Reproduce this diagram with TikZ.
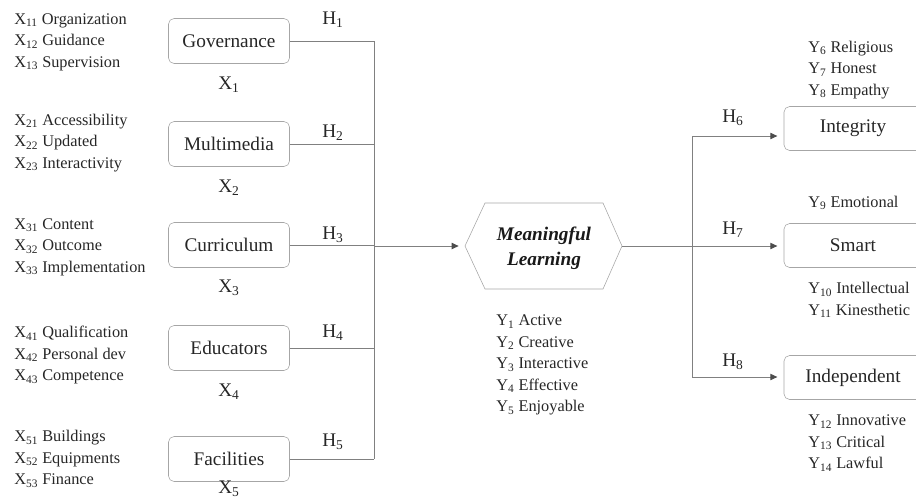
\documentclass[tikz,border=0pt]{standalone}
\usepackage{fontspec}
\setmainfont{Liberation Serif}
\usetikzlibrary{positioning,arrows.meta}

\begin{document}
\begin{tikzpicture}[x=0.025cm, y=-0.025cm,
    factor/.style={draw=gray!70, rounded corners=4pt, minimum width=3.025cm, minimum height=1.125cm, font=\fontsize{13.7}{16}\selectfont, text=black!85},
    outcome/.style={factor, minimum width=3.45cm, minimum height=1.1cm},
    ind/.style={align=left, anchor=west, inner sep=0pt, font=\fontsize{11.6}{15.3}\selectfont, text=black!85},
    lab/.style={font=\fontsize{13.7}{16}\selectfont, text=black!85, inner sep=0pt},
    link/.style={draw=gray, line width=0.7pt},
    arr/.style={link, shorten >=4.5pt, -{Triangle[length=5pt, width=4.5pt, color=black!70]}}
]
    \useasboundingbox (0,0) rectangle (916,502);

    % Draw the five factors with their buses
    \foreach \name/\lab/\y/\hy/\xy [count=\i] in {gov/Governance/41/20/85, mm/Multimedia/144/133/188, cur/Curriculum/245/235/288, edu/Educators/348/333/392, fac/Facilities/459/442/489} {
        \node[factor] (\name) at (229,\y) {\lab};
        \node[lab] (x\i) at (229,\xy) {X\textsubscript{\i}};
        \node[lab] (h\i) at (333,\hy) {H\textsubscript{\i}};
        \coordinate (b\i) at (374,\y);
        \draw[link] (\name) -- (b\i);
    }
    \draw[link] (b1) -- (b5);

    % Indicators of the factors
    \node[ind] (l1) at (14,42) {X\textsubscript{11} Organization\\X\textsubscript{12} Guidance\\X\textsubscript{13} Supervision};
    \node[ind] (l2) at (14,143) {X\textsubscript{21} Accessibility\\X\textsubscript{22} Updated\\X\textsubscript{23} Interactivity};
    \node[ind] (l3) at (14,247) {X\textsubscript{31} Content\\X\textsubscript{32} Outcome\\X\textsubscript{33} Implementation};
    \node[ind] (l4) at (14,355) {X\textsubscript{41} Qualification\\X\textsubscript{42} Personal dev\\X\textsubscript{43} Competence};
    \node[ind] (l5) at (14,459) {X\textsubscript{51} Buildings\\X\textsubscript{52} Equipments\\X\textsubscript{53} Finance};

    % Meaningful learning hexagon
    \node[align=center, inner sep=0pt, text=black!90, font=\bfseries\itshape\fontsize{13.7}{17.8}\selectfont] (ml) at (544,248) {Meaningful\\Learning};
    \coordinate (mlW) at (465,246);
    \coordinate (mlE) at (622,246);
    \draw[draw=gray!70] (mlW) -- (485,203) -- (603,203) -- (mlE) -- (603,289) -- (485,289) -- cycle;
    \draw[arr] (b3 |- mlW) -- (mlW);
    \node[ind] (yl) at (496,365) {Y\textsubscript{1} Active\\Y\textsubscript{2} Creative\\Y\textsubscript{3} Interactive\\Y\textsubscript{4} Effective\\Y\textsubscript{5} Enjoyable};

    % Outcomes on the right
    \node[outcome] (int) at (853,128.5) {Integrity};
    \node[outcome] (sma) at (853,245.5) {Smart};
    \node[outcome] (ind) at (853,377.5) {Independent};

    \coordinate (r6) at (692,136);
    \coordinate (r7) at (692,246);
    \coordinate (r8) at (692,377);
    \draw[link] (mlE) -- (r7);
    \draw[link] (r6) -- (r8);
    \draw[arr] (r6) -- (r6 -| int.west);
    \draw[arr] (r7) -- (r7 -| sma.west);
    \draw[arr] (r8) -- (r8 -| ind.west);
    \node[lab] (h6) at (733,118) {H\textsubscript{6}};
    \node[lab] (h7) at (733,230) {H\textsubscript{7}};
    \node[lab] (h8) at (733,362) {H\textsubscript{8}};

    % Indicators of the outcomes
    \node[ind] (r1) at (808,70) {Y\textsubscript{6} Religious\\Y\textsubscript{7} Honest\\Y\textsubscript{8} Empathy};
    \node[ind] (r2) at (808,203) {Y\textsubscript{9} Emotional};
    \node[ind] (r3) at (808,300) {Y\textsubscript{10} Intellectual\\Y\textsubscript{11} Kinesthetic};
    \node[ind] (r4) at (808,443) {Y\textsubscript{12} Innovative\\Y\textsubscript{13} Critical\\Y\textsubscript{14} Lawful};
\end{tikzpicture}
\end{document}
